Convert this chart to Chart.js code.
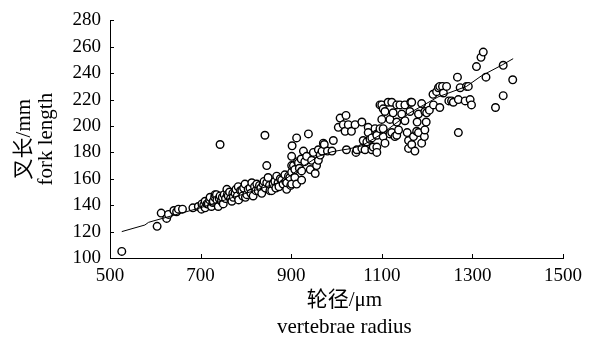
<!DOCTYPE html>
<html>
<head>
<meta charset="utf-8">
<script src="https://cdn.jsdelivr.net/npm/chart.js@4.4.1/dist/chart.umd.min.js"></script>
<style>
  html, body { margin: 0; padding: 0; background: #fff; }
  #wrap { width: 601px; height: 342px; }
</style>
</head>
<body>
<div id="wrap"><canvas id="scatterChart" width="601" height="342"></canvas></div>
<script>
// vertebrae radius (um) of each sampled fish
const radius = [
  526, 604, 613, 625, 629, 641, 647, 651, 660, 683, 743, 842, 846,
  695, 702, 703, 707, 710, 710, 714, 717, 720, 721, 724, 727, 728, 731, 732, 735, 736, 739,
  741, 743, 746, 748, 750, 752, 755, 758, 759, 761, 764, 766, 769, 771, 772, 776, 778, 781,
  783, 784, 788, 791, 793, 795, 798, 799, 802, 805, 809, 811, 813, 816, 819, 822, 824, 827,
  830, 833, 835, 838, 840, 843, 846, 849, 852, 853, 857, 860, 864, 866, 868, 871, 873, 876,
  879, 882, 886, 888, 890, 890, 894, 897, 899,
  901, 901, 901, 901, 902, 905, 908, 908, 912, 912, 914, 916, 918, 922, 923, 923, 927, 930,
  934, 938, 942, 945, 949, 953, 956, 960, 960, 964,
  968, 971, 973, 980, 990, 993, 1004, 1008, 1015, 1019, 1021, 1022, 1026, 1033, 1041, 1043,
  1045, 1056, 1056, 1059, 1063, 1067, 1070, 1070, 1074, 1078, 1078,
  1081, 1085, 1089, 1089, 1089, 1089, 1096, 1096, 1100, 1100, 1103, 1103, 1103, 1107, 1107,
  1114, 1118, 1118, 1122, 1122, 1125, 1129, 1133, 1133, 1133, 1137, 1140, 1144, 1151, 1151,
  1156, 1159, 1159, 1162, 1164, 1166, 1166, 1170, 1173, 1177, 1178, 1181, 1181, 1188, 1188,
  1194, 1195, 1195, 1198, 1199,
  1205, 1213, 1214, 1221, 1225, 1228, 1228, 1234, 1236, 1243, 1248, 1254, 1258, 1267, 1269,
  1269, 1273, 1284, 1287, 1291, 1295, 1298, 1309, 1319, 1324, 1330, 1351, 1368, 1368, 1389
];
// fork length (mm)
const forkLength = [
  105, 124, 134, 130, 133, 136, 135, 137, 137, 138, 186, 193, 170,
  139, 137, 141, 140, 143, 138, 141, 141, 144, 146, 139, 142, 143, 146, 148, 148, 144, 139,
  145, 147, 143, 146, 141, 148, 145, 152, 148, 147, 150, 145, 143, 149, 146, 149, 152, 147,
  154, 144, 151, 151, 147, 153, 156, 146, 148, 152, 153, 149, 157, 147, 154, 151, 156, 151,
  155, 153, 149, 156, 158, 153, 157, 161, 155, 151, 151, 156, 158, 153, 162, 157, 154, 160,
  159, 156, 163, 158, 152, 157, 162, 161, 155,
  165, 156, 170, 177, 185, 170, 167, 161, 191, 156, 173, 172, 168, 175, 166, 159, 181, 173,
  177, 194, 167, 174, 180, 164, 170, 174, 182, 178,
  181, 187, 186, 181, 181, 189, 199, 206, 201, 196, 208, 182, 201, 196, 201, 180,
  182, 183, 203, 189, 182, 188, 199, 195, 190, 191, 182,
  184, 198, 194, 184, 180, 193, 198, 216, 205, 216, 213, 198, 192, 187, 211,
  218, 205, 194, 218, 195, 210, 192, 216, 203, 193, 197, 216, 209, 216, 204,
  195, 189, 183, 211, 218, 218, 186, 192, 181, 196, 203, 209, 195, 217, 187,
  192, 211, 197, 203, 210,
  212, 224, 216, 226, 229, 230, 214, 230, 225, 230, 219, 219, 218, 237, 220,
  195, 229, 219, 230, 230, 220, 216, 245, 252, 256, 237, 214, 223, 246, 235
];
// fitted curve
const fitRadius = [526, 577, 585, 595, 699, 800, 880, 920, 960, 990, 1015, 1025, 1056, 1100, 1162, 1224, 1287, 1320, 1367, 1390];
const fitLength = [120, 125, 127, 128, 138, 149, 158, 168, 177, 180.5, 182, 182.5, 185, 194, 210, 222, 230, 238, 246.5, 251];

const xTicks = [500, 700, 900, 1100, 1300, 1500];
const yTicks = [100, 120, 140, 160, 180, 200, 220, 240, 260, 280];

const serif = "'Liberation Serif', 'Times New Roman', 'Noto Sans CJK SC', serif";

// short tick marks pointing into the plot
const innerTicks = {
  id: "innerTicks",
  afterDraw(chart) {
    const ctx = chart.ctx;
    const x = chart.scales.x;
    const y = chart.scales.y;
    const area = chart.chartArea;
    ctx.save();
    ctx.strokeStyle = "#000";
    ctx.lineWidth = 1;
    ctx.beginPath();
    xTicks.forEach(v => {
      const px = Math.round(x.getPixelForValue(v)) + 0.5;
      ctx.moveTo(px, area.bottom);
      ctx.lineTo(px, area.bottom - 4);
    });
    yTicks.forEach(v => {
      const py = Math.round(y.getPixelForValue(v)) + 0.5;
      ctx.moveTo(area.left, py);
      ctx.lineTo(area.left + 4, py);
    });
    ctx.stroke();
    ctx.restore();
  }
};

const config = {
  type: "scatter",
  data: {
    datasets: [
      {
        label: "fit",
        data: fitRadius.map((r, i) => ({ x: r, y: fitLength[i] })),
        showLine: true,
        borderColor: "#000",
        borderWidth: 1,
        pointRadius: 0,
        tension: 0
      },
      {
        label: "fork length",
        data: radius.map((r, i) => ({ x: r, y: forkLength[i] })),
        pointRadius: 3.8,
        pointBorderWidth: 1.4,
        pointBackgroundColor: "#fff",
        pointBorderColor: "#000",
        borderColor: "#000",
        backgroundColor: "#fff"
      }
    ]
  },
  options: {
    responsive: false,
    animation: false,
    layout: { padding: { top: 16, right: 38, left: 0, bottom: 0 } },
    plugins: { legend: { display: false }, tooltip: { enabled: false } },
    scales: {
      x: {
        type: "linear",
        min: 500,
        max: 1500,
        afterBuildTicks: s => { s.ticks = xTicks.map(v => ({ value: v })); },
        afterFit: s => { s.height = 84; },
        grid: { drawOnChartArea: false, drawTicks: false },
        border: { color: "#000", width: 1 },
        ticks: {
          color: "#000", padding: 7, maxRotation: 0,
          font: { family: serif, size: 19 },
          callback: v => String(v)
        },
        title: {
          display: true,
          // leading spaces nudge the centred title a bit to the right, as in the figure
          text: ["   轮径/μm", "   vertebrae radius"],
          color: "#000",
          font: { family: serif, size: 21, lineHeight: 1.3 },
          padding: { top: 0, bottom: 1 }
        }
      },
      y: {
        type: "linear",
        min: 100,
        max: 280,
        afterBuildTicks: s => { s.ticks = yTicks.map(v => ({ value: v })); },
        afterFit: s => { s.width = 110; },
        grid: { drawOnChartArea: false, drawTicks: false },
        border: { color: "#000", width: 1 },
        ticks: {
          color: "#000", padding: 9,
          font: { family: serif, size: 19 },
          callback: v => String(v)
        },
        title: {
          display: true,
          text: ["叉长/mm", "fork length"],
          color: "#000",
          font: { family: serif, size: 21, lineHeight: 1.05 },
          padding: { top: 13, bottom: 0 }
        }
      }
    }
  },
  plugins: [innerTicks]
};

new Chart(document.getElementById("scatterChart"), config);
</script>
</body>
</html>
